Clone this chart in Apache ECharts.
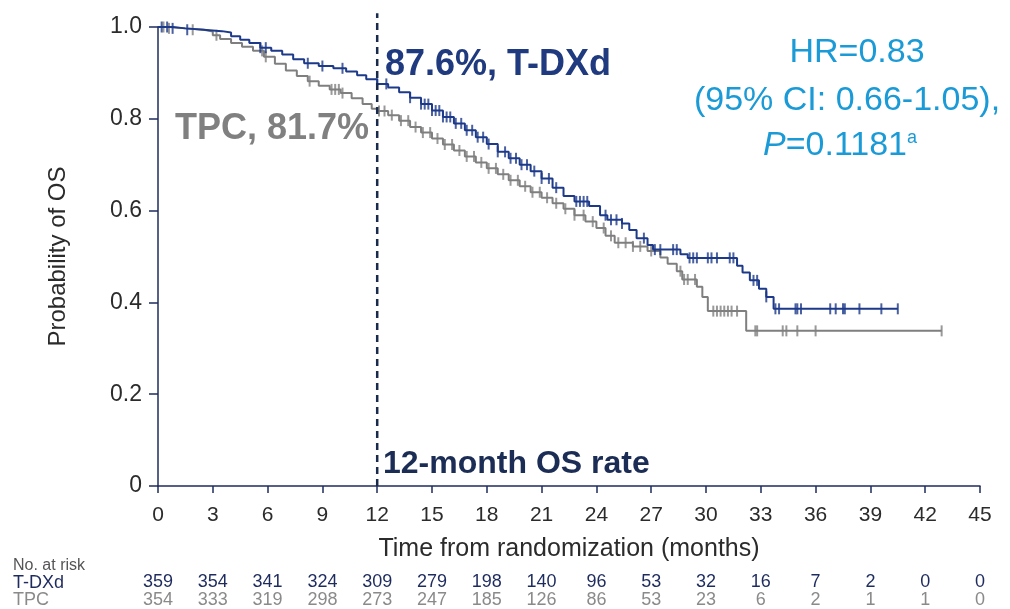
<!DOCTYPE html>
<html>
<head>
<meta charset="utf-8">
<script src="https://cdn.jsdelivr.net/npm/echarts@6/dist/echarts.min.js"></script>
<style>html,body{margin:0;padding:0;background:#fff;}#c{width:1010px;height:609px;}</style>
</head>
<body>
<div id="c"></div>
<script>
// ---- data ----
const xTicks = [0,3,6,9,12,15,18,21,24,27,30,33,36,39,42,45];
const yTicks = [0,0.2,0.4,0.6,0.8,1.0];
const landmarkMonth = 12;

const tdxdTime = [0,0.8,1.5,2.5,3.5,4.0,4.5,5.0,5.6,6.2,6.8,7.4,8.0,8.8,9.6,10.3,10.9,11.4,12.0,12.6,13.2,13.8,14.4,15.0,15.6,16.2,16.8,17.4,18.0,18.6,19.2,19.8,20.4,21.0,21.6,22.2,22.8,23.6,24.2,24.6,25.4,25.8,26.2,26.8,27.1,28.6,29.0,31.7,32.0,32.4,32.9,33.3,33.7,40.5];
const tdxdSurv = [1.000,0.997,0.994,0.991,0.988,0.980,0.972,0.965,0.955,0.948,0.940,0.930,0.921,0.915,0.910,0.903,0.895,0.886,0.876,0.868,0.858,0.846,0.832,0.818,0.804,0.790,0.775,0.760,0.745,0.728,0.714,0.700,0.686,0.670,0.650,0.632,0.620,0.610,0.590,0.580,0.572,0.558,0.540,0.525,0.515,0.505,0.497,0.480,0.465,0.448,0.430,0.412,0.386,0.386];

const tpcTime = [0,0.6,1.5,2.5,3.0,3.4,4.0,4.6,5.2,5.8,6.4,7.0,7.6,8.2,8.8,9.4,10.0,10.6,11.2,11.7,12.0,12.6,13.2,13.8,14.4,15.0,15.6,16.2,16.8,17.4,18.0,18.6,19.2,19.8,20.4,21.0,21.6,22.2,22.8,23.4,24.0,24.5,25.0,26.0,26.8,27.5,27.9,28.4,28.7,29.5,29.8,30.1,32.2,42.9];
const tpcSurv = [1.000,0.997,0.994,0.990,0.982,0.974,0.965,0.957,0.948,0.935,0.920,0.905,0.893,0.882,0.872,0.864,0.856,0.845,0.832,0.822,0.817,0.808,0.796,0.782,0.770,0.757,0.744,0.731,0.718,0.705,0.692,0.679,0.666,0.653,0.640,0.628,0.616,0.604,0.590,0.576,0.562,0.545,0.530,0.522,0.512,0.498,0.484,0.468,0.450,0.434,0.412,0.381,0.338,0.338];

const tdxdCensor = [0.2,0.5,0.8,1.6,5.6,5.9,8.2,9.0,10.1,12.0,12.5,13.8,14.4,14.6,14.8,15.0,15.2,15.4,15.6,15.8,16.0,16.3,16.6,16.9,17.2,17.5,17.8,18.1,18.6,19.0,19.3,19.6,19.9,20.2,20.6,21.0,21.4,21.8,22.9,23.1,23.3,23.5,24.5,24.8,25.1,25.4,26.6,27.2,27.5,28.2,28.4,29.1,29.3,29.5,30.1,30.3,30.6,31.3,31.5,32.6,32.8,33.3,33.8,34.0,34.9,35.0,35.2,36.8,37.1,37.5,37.6,38.4,39.6,40.5];
const tpcCensor = [0.3,0.6,1.9,3.2,5.7,5.9,8.3,9.5,9.7,9.9,10.1,12.1,12.4,12.8,13.3,13.7,14.1,14.5,14.9,15.3,15.7,16.1,16.5,16.9,17.3,17.7,18.1,18.5,18.9,19.3,19.7,20.1,20.5,20.9,21.3,21.8,22.3,22.8,23.3,23.8,24.4,24.8,25.2,25.6,26.0,26.4,27.0,28.6,28.8,29.0,29.4,30.4,30.6,30.8,31.0,31.2,31.4,31.7,32.7,32.8,34.2,34.4,35.0,36.0,42.9];

const atRiskTdxd = [359,354,341,324,309,279,198,140,96,53,32,16,7,2,0,0];
const atRiskTpc  = [354,333,319,298,273,247,185,126,86,53,23,6,2,1,1,0];

// ---- helpers ----
function stepAt(times, surv, t){
  let v = surv[0];
  for (let i=0;i<times.length;i++){ if (times[i] <= t) v = surv[i]; else break; }
  return v;
}
const zip = (a,b)=>a.map((x,i)=>[x,b[i]]);
const censorPts = (c,times,surv)=>c.map(t=>[t, stepAt(times,surv,t)]);

const NAVY = '#1d3a8a';
const GRAY = '#7f7f7f';
const AXIS = '#1f2d5c';
const BLUE = '#1a9ad6';
const FONT = 'Liberation Sans, Arial, sans-serif';

const chart = echarts.init(document.getElementById('c'), null, {renderer:'canvas'});
const atRiskAxis = (arr, offset, color, weight) => ({
  type:'value', min:0, max:45, interval:3, position:'bottom', offset: offset,
  axisLine:{show:false}, axisTick:{show:false}, splitLine:{show:false},
  axisLabel:{margin:0, fontSize:18, color: color, fontWeight: weight, fontFamily: FONT,
    formatter: v => { const i = xTicks.indexOf(v); return i>=0 ? String(arr[i]) : ''; }}
});

chart.setOption({
  animation:false,
  backgroundColor:'#fff',
  grid:{left:158, right:30, top:27, bottom:123},
  xAxis:[{
    type:'value', min:0, max:45, interval:3,
    axisLine:{lineStyle:{color:AXIS, width:1.5}},
    axisTick:{length:7, lineStyle:{color:AXIS, width:1.5}},
    splitLine:{show:false},
    axisLabel:{fontSize:21, color:'#2b2b2b', margin:19, fontFamily:FONT},
    name:'Time from randomization (months)', nameLocation:'middle', nameGap:51,
    nameTextStyle:{fontSize:25, color:'#2b2b2b', fontFamily:FONT}
  },
  atRiskAxis(atRiskTdxd, 87, '#1e2b5e', 'normal'),
  atRiskAxis(atRiskTpc, 105, '#8a8a8a', 'normal')
  ],
  yAxis:{
    type:'value', min:0, max:1, interval:0.2,
    axisLine:{show:true, lineStyle:{color:AXIS, width:1.5}},
    axisTick:{show:true, length:9, lineStyle:{color:AXIS, width:1.5}},
    splitLine:{show:false},
    axisLabel:{fontSize:23, color:'#2b2b2b', margin:16, fontFamily:FONT,
      formatter: v => v===0 ? '0' : v.toFixed(1)},
    name:'Probability of OS', nameLocation:'middle', nameRotate:90, nameGap:88,
    nameTextStyle:{fontSize:24, color:'#2b2b2b', fontFamily:FONT}
  },
  series:[
    {type:'line', name:'TPC', step:'end', data: zip(tpcTime,tpcSurv), showSymbol:false,
     lineStyle:{color:GRAY, width:2}, z:2},
    {type:'line', name:'T-DXd', step:'end', data: zip(tdxdTime,tdxdSurv), showSymbol:false,
     lineStyle:{color:NAVY, width:2}, z:3},
    {type:'scatter', data: censorPts(tpcCensor,tpcTime,tpcSurv), symbol:'rect', symbolSize:[2,11],
     itemStyle:{color:GRAY}, z:2},
    {type:'scatter', data: censorPts(tdxdCensor,tdxdTime,tdxdSurv), symbol:'rect', symbolSize:[2,11],
     itemStyle:{color:NAVY}, z:3},
    {type:'line', data:[[landmarkMonth,0],[landmarkMonth,1.03]], showSymbol:false, clip:false,
     lineStyle:{color:'#1a2a4a', width:2.5, type:[7,5]}, z:4}
  ],
  graphic:[
    {type:'text', left:385, top:47, style:{text:'87.6%, T-DXd', font:'bold 36px '+FONT, fill:'#1f3a7e'}},
    {type:'text', left:175, top:111, style:{text:'TPC, 81.7%', font:'bold 36px '+FONT, fill:'#808080'}},
    {type:'text', left:383, top:448, style:{text:'12-month OS rate', font:'bold 32px '+FONT, fill:'#1b2d55'}},
    {type:'text', x:857, y:36, style:{text:'HR=0.83', font:'34px '+FONT, fill:BLUE, textAlign:'center'}},
    {type:'text', x:847, y:84, style:{text:'(95% CI: 0.66-1.05),', font:'34px '+FONT, fill:BLUE, textAlign:'center'}},
    {type:'text', left:763, top:129, style:{
      text:'{i|P}{n|=0.1181}{s|a}',
      rich:{ i:{font:'italic 34px '+FONT, fill:BLUE}, n:{font:'34px '+FONT, fill:BLUE},
             s:{font:'18px '+FONT, fill:BLUE, verticalAlign:'top', padding:[0,0,14,0]} }}},
    {type:'text', left:13, top:558, style:{text:'No. at risk', font:'16px '+FONT, fill:'#555'}},
    {type:'text', left:13, top:574, style:{text:'T-DXd', font:'18px '+FONT, fill:'#1e2b5e'}},
    {type:'text', left:13, top:591, style:{text:'TPC', font:'18px '+FONT, fill:'#8a8a8a'}}
  ]
});
</script>
</body>
</html>
